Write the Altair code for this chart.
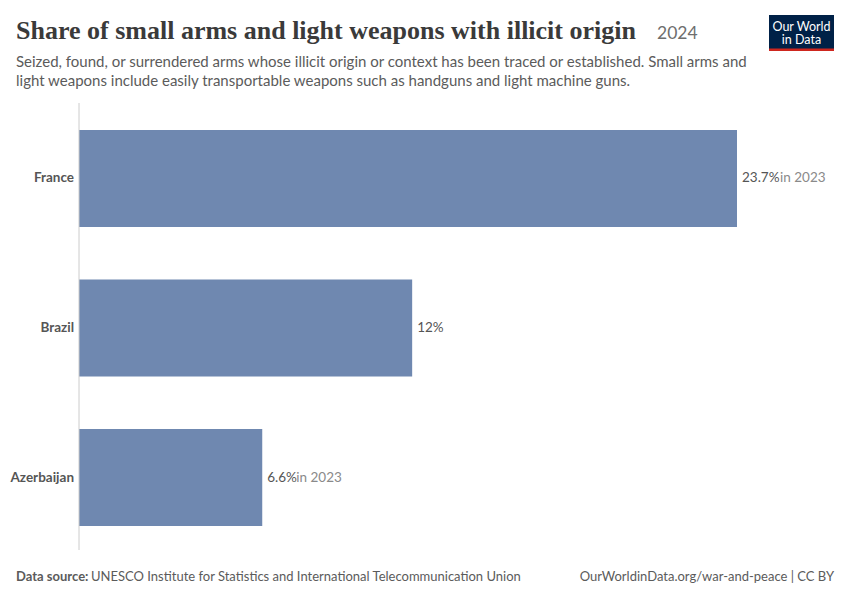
import altair as alt
import pandas as pd

countries = ["France", "Brazil", "Azerbaijan"]
values = [23.7, 12, 6.6]
value_labels = ["23.7%", "12%", "6.6%"]
suffixes = ["in 2023", "", "in 2023"]

title_text = "Share of small arms and light weapons with illicit origin"
title_year = "2024"
subtitle_lines = [
    "Seized, found, or surrendered arms whose illicit origin or context has been traced or established. Small arms and",
    "light weapons include easily transportable weapons such as handguns and light machine guns.",
]
source_label = "Data source:"
source_text = "UNESCO Institute for Statistics and International Telecommunication Union"
right_footer = "OurWorldinData.org/war-and-peace | CC BY"

df = pd.DataFrame({
    "country": countries,
    "value": values,
    "label": value_labels,
    "suffix": suffixes,
})

W, H = 834, 584
FONT = "Lato"

yscale = alt.Scale(domain=countries, range=[92, 548], paddingInner=0.351, paddingOuter=0.2)
xscale = alt.Scale(domain=[0, 23.7], range=[71, 729], nice=False, zero=True)

Y = alt.Y("country:N", scale=yscale, axis=None, sort=countries)
X = alt.X("value:Q", scale=xscale, axis=None)

base = alt.Chart(df)

bars = base.mark_bar(color="#6f88b0").encode(y=Y, x=X)

value_text = base.mark_text(align="left", baseline="middle", dx=5, font=FONT, fontSize=13.5,
                            color="#555555").encode(y=Y, x=X, text="label:N")

# suffix placed right after the value label (offset depends on label length)
suffix_layers = []
for n, off in [(5, 43), (4, 34), (3, 27)]:
    suffix_layers.append(
        base.transform_filter(f"length(datum.label) == {n} && datum.suffix != ''")
        .mark_text(align="left", baseline="middle", dx=off, font=FONT, fontSize=13.5, color="#8a8a8a")
        .encode(y=Y, x=X, text="suffix:N")
    )

cat_labels = base.mark_text(align="right", baseline="middle", font=FONT, fontSize=13.5,
                            fontWeight="bold", color="#555555").encode(
    y=Y, x=alt.value(66), text="country:N",
)

axis_line = alt.Chart(pd.DataFrame({"v": [0]})).mark_rule(color="#cccccc", strokeWidth=1).encode(
    x=alt.X("v:Q", scale=xscale, axis=None),
    y=alt.value(95),
    y2=alt.value(542),
)

def txt(s, x, y, **kw):
    return alt.Chart(pd.DataFrame({"t": [s]})).mark_text(**kw).encode(
        x=alt.value(x), y=alt.value(y), text="t:N"
    )

title = txt(title_text, 8, 31, align="left", baseline="alphabetic", font="Liberation Serif",
            fontSize=26, fontWeight="bold", color="#3a3a3a")
year = txt(title_year, 649, 31, align="left", baseline="alphabetic", font=FONT, fontSize=17.5, color="#6e6e6e")
sub1 = txt(subtitle_lines[0], 8, 59, align="left", baseline="alphabetic", font=FONT, fontSize=15, color="#5b5b5b")
sub2 = txt(subtitle_lines[1], 8, 78, align="left", baseline="alphabetic", font=FONT, fontSize=15, color="#5b5b5b")
src1 = txt(source_label, 8, 573, align="left", baseline="alphabetic", font=FONT, fontSize=13, fontWeight="bold", color="#5b5b5b")
src2 = txt(source_text, 83, 573, align="left", baseline="alphabetic", font=FONT, fontSize=13, color="#5b5b5b")
rfoot = txt(right_footer, 826, 573, align="right", baseline="alphabetic", font=FONT, fontSize=13, color="#5b5b5b")

logo_box = alt.Chart(pd.DataFrame({"a": [0]})).mark_rect(color="#002147").encode(
    x=alt.value(761), x2=alt.value(826), y=alt.value(7), y2=alt.value(43)
)
logo_red = alt.Chart(pd.DataFrame({"a": [0]})).mark_rect(color="#ce261e").encode(
    x=alt.value(761), x2=alt.value(826), y=alt.value(40.5), y2=alt.value(43)
)
logo1 = txt("Our World", 793.5, 22.5, align="center", baseline="alphabetic", font=FONT, fontSize=12.5, color="white")
logo2 = txt("in Data", 793.5, 35.5, align="center", baseline="alphabetic", font=FONT, fontSize=12.5, color="white")

chart = alt.layer(
    bars, axis_line, value_text, *suffix_layers, cat_labels,
    title, year, sub1, sub2, src1, src2, rfoot, logo_box, logo_red, logo1, logo2,
).properties(
    width=W, height=H,
    autosize=alt.AutoSizeParams(type="none"),
    padding=0,
    background="white",
).configure_view(stroke=None)

chart.save("out.html", embed_options={"renderer": "svg", "actions": False})
